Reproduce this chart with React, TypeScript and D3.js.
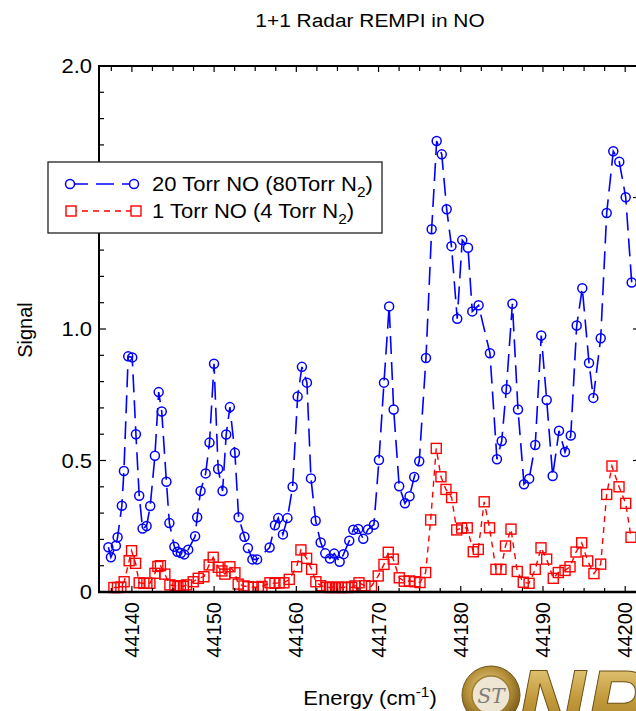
import React from "react";
import * as d3 from "d3";

// 20 Torr NO (80 Torr N2) scan
const energy20 = [
  44137.14, 44137.45, 44138.05, 44138.26, 44138.78, 44139.03, 44139.55, 44140.04, 44140.49, 44140.89,
  44141.30, 44141.79, 44142.23, 44142.80, 44143.26, 44143.63, 44144.20, 44144.56, 44145.17, 44145.54,
  44145.96, 44146.36, 44146.85, 44147.69, 44147.94, 44148.35, 44148.97, 44149.44, 44149.99, 44150.49,
  44151.03, 44151.47, 44151.92, 44152.53, 44152.98, 44153.69, 44154.11, 44154.66, 44155.23, 44156.75,
  44157.40, 44157.80, 44158.37, 44158.92, 44159.55, 44160.16, 44160.68, 44161.29, 44161.78, 44162.35,
  44162.96, 44163.52, 44164.09, 44164.61, 44165.27, 44165.75, 44166.44, 44166.92, 44167.53, 44168.14,
  44168.71, 44169.44, 44170.05, 44170.66, 44171.29, 44171.84, 44172.51, 44173.21, 44173.77, 44174.34,
  44174.95, 44175.77, 44176.46, 44177.07, 44177.69, 44178.29, 44178.87, 44179.57, 44180.18, 44180.88,
  44181.40, 44182.17, 44183.55, 44184.40, 44184.98, 44185.54, 44186.28, 44186.96, 44187.69, 44188.32,
  44189.06, 44189.79, 44190.45, 44191.18, 44191.95, 44192.68, 44193.38, 44194.10, 44194.78, 44195.60,
  44196.12, 44197.02, 44197.75, 44198.55, 44199.28, 44200.06, 44200.79,
];
const signal20 = [
  0.170, 0.132, 0.176, 0.208, 0.328, 0.460, 0.896, 0.892, 0.600, 0.366,
  0.241, 0.251, 0.327, 0.518, 0.760, 0.686, 0.419, 0.262, 0.172, 0.153,
  0.148, 0.143, 0.161, 0.212, 0.284, 0.384, 0.451, 0.568, 0.868, 0.468,
  0.384, 0.599, 0.703, 0.529, 0.284, 0.210, 0.167, 0.124, 0.124, 0.169,
  0.254, 0.281, 0.219, 0.281, 0.400, 0.743, 0.856, 0.796, 0.432, 0.271,
  0.188, 0.147, 0.127, 0.146, 0.115, 0.144, 0.195, 0.237, 0.240, 0.202,
  0.238, 0.256, 0.502, 0.796, 1.086, 0.694, 0.402, 0.337, 0.364, 0.437,
  0.497, 0.890, 1.379, 1.715, 1.664, 1.455, 1.315, 1.039, 1.338, 1.309,
  1.067, 1.090, 0.908, 0.505, 0.574, 0.771, 1.096, 0.694, 0.410, 0.431,
  0.559, 0.975, 0.730, 0.441, 0.613, 0.532, 0.595, 1.013, 1.155, 0.871,
  0.738, 0.965, 1.441, 1.676, 1.636, 1.501, 1.177,
];

// 1 Torr NO (4 Torr N2) scan
const energy1 = [
  44137.81, 44138.24, 44138.66, 44139.06, 44139.67, 44139.96, 44140.45, 44140.89, 44141.46, 44141.82,
  44142.19, 44142.80, 44143.16, 44143.47, 44144.01, 44144.62, 44145.23, 44145.60, 44145.90, 44146.27,
  44146.65, 44147.46, 44148.07, 44148.76, 44149.40, 44149.89, 44150.50, 44150.95, 44151.31, 44151.92,
  44152.53, 44152.93, 44153.63, 44154.15, 44154.76, 44155.37, 44155.82, 44156.79, 44157.40, 44157.92,
  44158.49, 44159.14, 44160.04, 44160.56, 44161.25, 44161.86, 44162.38, 44162.96, 44163.69, 44164.03,
  44164.42, 44164.76, 44165.10, 44165.49, 44165.91, 44166.28, 44166.73, 44167.13, 44167.62, 44168.35,
  44169.14, 44169.96, 44170.66, 44171.18, 44171.79, 44172.52, 44173.13, 44173.76, 44174.43, 44175.04,
  44175.73, 44176.34, 44177.02, 44177.59, 44178.20, 44178.89, 44179.51, 44180.11, 44180.79, 44181.52,
  44182.13, 44182.85, 44183.50, 44184.28, 44184.89, 44185.44, 44186.11, 44186.87, 44187.60, 44188.31,
  44189.06, 44189.76, 44190.45, 44191.25, 44191.86, 44192.68, 44193.29, 44194.02, 44194.71, 44195.44,
  44196.20, 44197.02, 44197.75, 44198.39, 44199.25, 44200.06, 44200.71,
];
const signal1 = [
  0.017, 0.017, 0.019, 0.039, 0.119, 0.157, 0.109, 0.035, 0.033, 0.033,
  0.033, 0.071, 0.097, 0.100, 0.068, 0.027, 0.024, 0.021, 0.024, 0.021,
  0.027, 0.039, 0.052, 0.058, 0.103, 0.132, 0.094, 0.080, 0.068, 0.096,
  0.073, 0.030, 0.023, 0.020, 0.018, 0.018, 0.021, 0.035, 0.033, 0.035,
  0.035, 0.048, 0.096, 0.160, 0.128, 0.086, 0.039, 0.024, 0.018, 0.017,
  0.018, 0.017, 0.018, 0.017, 0.018, 0.017, 0.018, 0.023, 0.035, 0.024,
  0.022, 0.061, 0.105, 0.151, 0.125, 0.054, 0.041, 0.042, 0.039, 0.036,
  0.074, 0.274, 0.546, 0.438, 0.390, 0.359, 0.236, 0.243, 0.244, 0.153,
  0.162, 0.343, 0.244, 0.086, 0.086, 0.175, 0.239, 0.078, 0.037, 0.033,
  0.086, 0.168, 0.125, 0.052, 0.074, 0.082, 0.096, 0.152, 0.187, 0.118,
  0.070, 0.106, 0.371, 0.479, 0.400, 0.337, 0.208,
];

const xMajorTicks = [44140, 44150, 44160, 44170, 44180, 44190, 44200];
const yMajorTicks = [0, 0.5, 1.0, 1.5, 2.0];
const yTickLabels = ["0", "0.5", "1.0", "1.5", "2.0"];

const W = 636;
const H = 711;
const FONT = "'Liberation Sans', Arial, Helvetica, sans-serif";
const BLUE = "#0000ff";
const RED = "#ff0000";

const left = 99;
const right = 640;
const top = 66;
const bottom = 592;

// horizontal text widening used for the upright labels
const SX = 1.1;

export default function App() {
  const x = d3.scaleLinear().domain([44136.0, 44201.8]).range([left, right]);
  const y = d3.scaleLinear().domain([0, 2]).range([bottom, top]);

  const s20 = energy20.map((e, i) => [e, signal20[i]] as [number, number]);
  const s1 = energy1.map((e, i) => [e, signal1[i]] as [number, number]);

  const line = d3
    .line<[number, number]>()
    .x((d) => x(d[0]))
    .y((d) => y(d[1]));

  const xMinor = d3.range(44137.5, 44202, 2.5).filter((v) => !xMajorTicks.includes(v));
  const yMinor = d3.range(0.1, 2.0, 0.1).filter((v) => Math.abs(v * 2 - Math.round(v * 2)) > 1e-6);

  const axisStroke = "#000";

  return (
    <svg
      width={W}
      height={H}
      style={{ position: "absolute", left: 0, top: 0, background: "#fff" }}
      fontFamily={FONT}
    >
      <defs>
        <clipPath id="plotClip">
          <rect x={left} y={top - 10} width={right - left} height={bottom - top + 12} />
        </clipPath>
        <radialGradient id="sealGrad" cx="45%" cy="40%" r="60%">
          <stop offset="0%" stopColor="#e9d9a4" />
          <stop offset="60%" stopColor="#b8923a" />
          <stop offset="100%" stopColor="#7a5d1c" />
        </radialGradient>
        <linearGradient id="goldText" x1="0" y1="0" x2="0" y2="1">
          <stop offset="0%" stopColor="#f0dc96" />
          <stop offset="45%" stopColor="#c39a3a" />
          <stop offset="100%" stopColor="#8a6a1f" />
        </linearGradient>
      </defs>

      <rect x={0} y={0} width={W} height={H} fill="#fff" />

      {/* title */}
      <text transform={`translate(370,27) scale(${SX},1)`} fontSize={19} textAnchor="middle" fill="#000">
        1+1 Radar REMPI in NO
      </text>

      {/* data */}
      <g clipPath="url(#plotClip)">
        <path
          d={line(s1) || ""}
          fill="none"
          stroke={RED}
          strokeWidth={1.4}
          strokeDasharray="6,5"
        />
        {s1.map((d, i) => (
          <rect
            key={"r" + i}
            x={x(d[0]) - 5}
            y={y(d[1]) - 5}
            width={10}
            height={10}
            fill="none"
            stroke={RED}
            strokeWidth={1.4}
          />
        ))}
        <path
          d={line(s20) || ""}
          fill="none"
          stroke={BLUE}
          strokeWidth={1.6}
          strokeDasharray="18,8"
        />
        {s20.map((d, i) => (
          <circle
            key={"c" + i}
            cx={x(d[0])}
            cy={y(d[1])}
            r={4.5}
            fill="none"
            stroke={BLUE}
            strokeWidth={1.5}
          />
        ))}
      </g>

      {/* frame */}
      <line x1={left} x2={left} y1={top} y2={bottom} stroke={axisStroke} strokeWidth={2} />
      <line x1={right} x2={right} y1={top} y2={bottom} stroke={axisStroke} strokeWidth={2} />
      <line x1={left - 1} x2={right + 1} y1={top} y2={top} stroke={axisStroke} strokeWidth={2} />
      <line x1={left - 1} x2={right + 1} y1={bottom} y2={bottom} stroke={axisStroke} strokeWidth={2.5} />

      {/* x ticks */}
      {xMajorTicks.map((v) => (
        <g key={"xm" + v}>
          <line x1={x(v)} x2={x(v)} y1={bottom} y2={bottom - 6} stroke={axisStroke} strokeWidth={1.2} />
          <line x1={x(v)} x2={x(v)} y1={top} y2={top + 6} stroke={axisStroke} strokeWidth={1.2} />
          <text
            transform={`translate(${x(v)},602) rotate(-90)`}
            textAnchor="end"
            dominantBaseline="central"
            fontSize={20}
            fill="#000"
          >
            {v}
          </text>
        </g>
      ))}
      {xMinor.map((v) => (
        <g key={"xn" + v}>
          <line x1={x(v)} x2={x(v)} y1={bottom} y2={bottom - 4} stroke={axisStroke} strokeWidth={1.2} />
          <line x1={x(v)} x2={x(v)} y1={top} y2={top + 5} stroke={axisStroke} strokeWidth={1.2} />
        </g>
      ))}

      {/* y ticks */}
      {yMajorTicks.map((v, i) => (
        <g key={"ym" + v}>
          <line x1={left} x2={left + 7} y1={y(v)} y2={y(v)} stroke={axisStroke} strokeWidth={1.2} />
          <line x1={right} x2={right - 7} y1={y(v)} y2={y(v)} stroke={axisStroke} strokeWidth={1.2} />
          <text
            transform={`translate(92,${y(v)}) scale(${SX},1)`}
            textAnchor="end"
            dominantBaseline="central"
            fontSize={20}
            fill="#000"
          >
            {yTickLabels[i]}
          </text>
        </g>
      ))}
      {yMinor.map((v) => (
        <g key={"yn" + v.toFixed(1)}>
          <line x1={left} x2={left + 5} y1={y(v)} y2={y(v)} stroke={axisStroke} strokeWidth={1.2} />
          <line x1={right} x2={right - 4} y1={y(v)} y2={y(v)} stroke={axisStroke} strokeWidth={1.2} />
        </g>
      ))}

      {/* axis titles */}
      <text
        transform="translate(32,330) rotate(-90)"
        textAnchor="middle"
        fontSize={20}
        fill="#000"
      >
        Signal
      </text>
      <text transform={`translate(370,705) scale(${SX},1)`} textAnchor="middle" fontSize={20} fill="#000">
        Energy (cm
        <tspan dy={-8} fontSize={14}>-1</tspan>
        <tspan dy={8}>)</tspan>
      </text>

      {/* legend */}
      <g>
        <rect x={48} y={162} width={334} height={71} fill="#fff" stroke="#222" strokeWidth={1.3} />
        <line x1={70} x2={134} y1={184} y2={184} stroke={BLUE} strokeWidth={1.6} strokeDasharray="18,8" />
        <circle cx={70} cy={184} r={4.5} fill="#fff" stroke={BLUE} strokeWidth={1.5} />
        <circle cx={134} cy={184} r={4.5} fill="#fff" stroke={BLUE} strokeWidth={1.5} />
        <line x1={71} x2={136} y1={211} y2={211} stroke={RED} strokeWidth={1.4} strokeDasharray="6,5" />
        <rect x={66} y={206} width={10} height={10} fill="#fff" stroke={RED} strokeWidth={1.4} />
        <rect x={131} y={206} width={10} height={10} fill="#fff" stroke={RED} strokeWidth={1.4} />
        <text transform={`translate(152,191) scale(${SX},1)`} fontSize={20} fill="#000">
          20 Torr NO (80Torr N
          <tspan dy={6} fontSize={14}>2</tspan>
          <tspan dy={-6}>)</tspan>
        </text>
        <text transform={`translate(152,218) scale(${SX},1)`} fontSize={20} fill="#000">
          1 Torr NO (4 Torr N
          <tspan dy={6} fontSize={14}>2</tspan>
          <tspan dy={-6}>)</tspan>
        </text>
      </g>

      {/* institutional mark */}
      <g>
        <circle cx={491} cy={695} r={29} fill="url(#sealGrad)" stroke="#6e5418" strokeWidth={1} />
        <circle cx={491} cy={695} r={19} fill="#eee6d2" stroke="#9c7d2e" strokeWidth={1.5} />
        <text x={491} y={703} textAnchor="middle" fontSize={20} fontStyle="italic" fill="#7d7d7d" fontFamily="'DejaVu Serif', serif">
          ST
        </text>
        <text x={516} y={737} fontSize={96} fontWeight="bold" fontStyle="italic" fill="url(#goldText)" stroke="#6b5016" strokeWidth={1}>
          NP
        </text>
      </g>
    </svg>
  );
}
